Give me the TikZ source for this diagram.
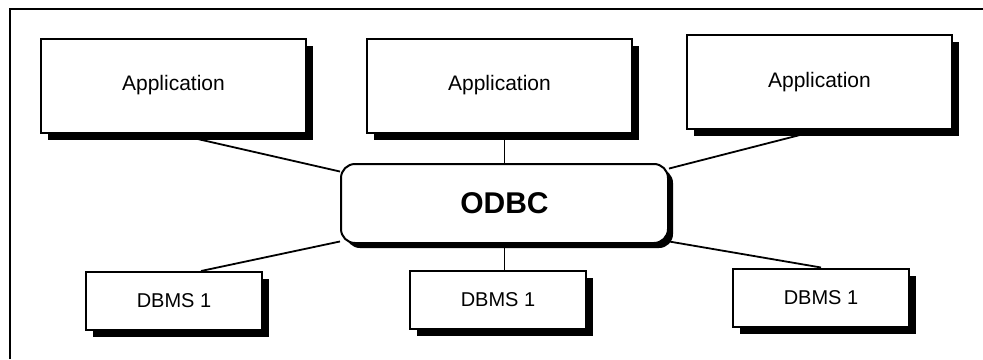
\documentclass[tikz,border=0pt]{standalone}
\usepackage{fontspec}
\setmainfont{Liberation Sans}
\usetikzlibrary{shadows,calc}
\pgfdeclarelayer{background}
\pgfsetlayers{background,main}
\begin{document}
\begin{tikzpicture}[x=1pt,y=-1pt,
  boxshadow/.style={drop shadow={opacity=1,fill=black,shadow xshift=#1,shadow yshift=-#1}},
  appbox/.style={draw,line width=2pt,fill=white,inner sep=0pt,
    minimum width=265pt,minimum height=94pt,
    font=\fontsize{21}{24}\selectfont,boxshadow=7pt},
  dbbox/.style={draw,line width=2pt,fill=white,inner sep=0pt,
    minimum width=176pt,minimum height=58pt,
    font=\fontsize{20}{23}\selectfont,boxshadow=7pt},
  hub/.style={draw,line width=2pt,fill=white,inner sep=0pt,rounded corners=14pt,
    minimum width=327pt,minimum height=79pt,
    font=\fontsize{30}{34}\selectfont\bfseries,boxshadow=5pt},
  link/.style={line width=1.8pt}]
\useasboundingbox (0,0) rectangle (983,359);

% outer frame (top and left edges)
\draw[line width=1.5pt] (10,359) -- (10,9) -- (983,9);

% application layer
\node[appbox] (a1) at (173.5,85.5) {Application};
\node[appbox] (a2) at (499.5,85.5) {Application};
\node[appbox] (a3) at (819.5,82) {Application};

% driver manager
\node[hub] (odbc) at (504.5,203.5) {ODBC};

% data sources
\node[dbbox] (d1) at (174,301) {DBMS 1};
\node[dbbox] (d2) at (498,300) {DBMS 1};
\node[dbbox] (d3) at (821,297.5) {DBMS 1};

% connectors
\begin{pgfonlayer}{background}
  \draw[link] (a1.south) -- (odbc.169);
  \draw[link] (odbc.north) -- (odbc.north |- a2.south);
  \draw[link] (a3.south) -- (odbc.12);
  \draw[link] (d1.48) -- (odbc.193);
  \draw[link] (odbc.south) -- (odbc.south |- d2.north);
  \draw[link] (d3.north) -- (odbc.-13);
\end{pgfonlayer}
\end{tikzpicture}
\end{document}
